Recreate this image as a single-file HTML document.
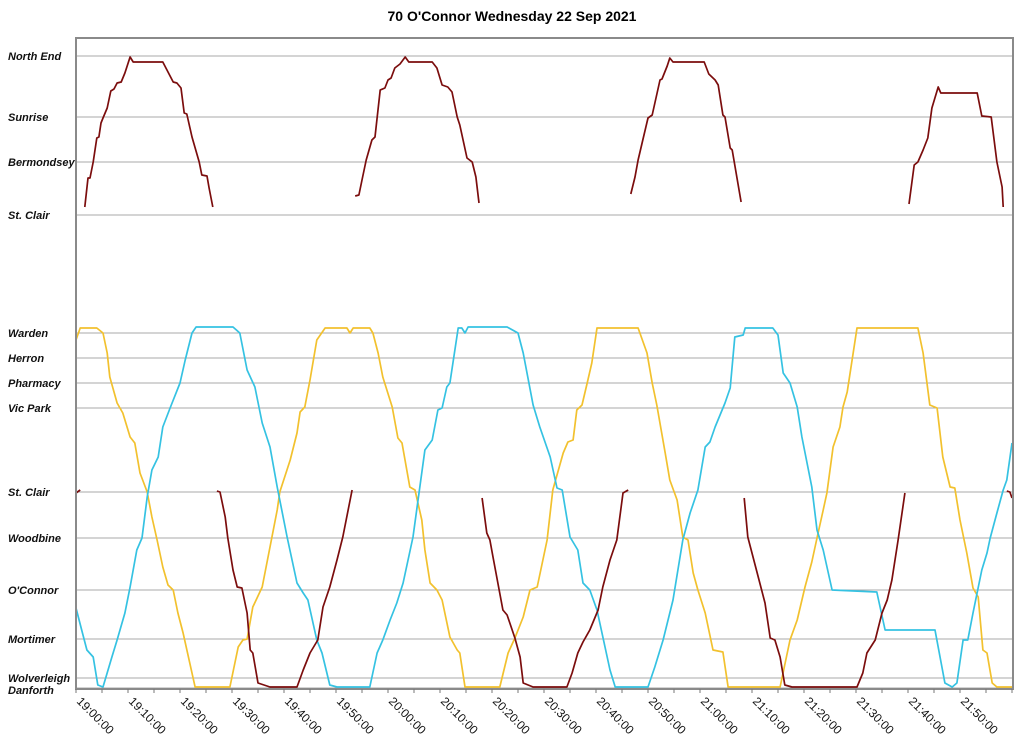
<!DOCTYPE html>
<html><head><meta charset="utf-8"><style>
body{margin:0;background:#fff;width:1024px;height:747px;overflow:hidden;font-family:"Liberation Sans",sans-serif}
</style></head><body>
<svg id="chart" width="1024" height="747" xmlns="http://www.w3.org/2000/svg">
<text x="512" y="21" text-anchor="middle" font-family="Liberation Sans, sans-serif" font-weight="bold" font-size="14">70 O'Connor Wednesday 22 Sep 2021</text>
<g id="grid"></g><g id="series"></g><g id="axes"></g>
</svg>
<script>
const stopNames=["North End","Sunrise","Bermondsey","St. Clair","Warden","Herron","Pharmacy","Vic Park","St. Clair","Woodbine","O'Connor","Mortimer","Wolverleigh","Danforth"];
const stopDist=[632,571,526,473,355,330,305,280,196,150,98,49,10,0];
const tickLabels=["19:00:00","19:10:00","19:20:00","19:30:00","19:40:00","19:50:00","20:00:00","20:10:00","20:20:00","20:30:00","20:40:00","20:50:00","21:00:00","21:10:00","21:20:00","21:30:00","21:40:00","21:50:00"];
// [minutes after 19:00, distance] pairs
const yellowTrip=[0,348,0.8,360,4.0,360,5.2,355,6.0,335,6.5,311,7.9,285,9.0,275,10.4,251,11.3,245,12.3,215,13.7,196,14.6,171,15.6,148,16.7,121,17.7,103,18.7,98,19.6,75,20.6,55,22.9,1,29.6,1,31.2,41,32.1,48,32.9,49,34.0,81,35.8,101,37.3,141,38.7,178,39.2,196,41.2,228,42.5,255,43.1,276,44.0,281,45.0,308,46.3,348,47.9,360,52.1,360,52.7,355,53.3,360,56.5,360,57.1,355,58.1,335,59.0,311,60.8,281,61.9,250,62.7,245,64.2,201,65.2,198,66.5,168,67.1,138,68.1,105,69.4,98,70.4,88,71.9,51,73.3,38,73.8,35,74.8,1,81.5,1,83.1,35,84.4,50,86.0,71,87.3,98,88.7,101,90.6,148,91.7,198,93.7,235,94.6,246,95.6,248,96.3,278,97.3,283,98.3,305,99.2,325,100.2,360,108.1,360,109.8,335,110.8,305,111.7,283,113.3,235,114.2,208,115.6,188,116.7,151,117.7,148,118.7,115,119.6,98,121.0,75,122.5,38,124.4,36,125.4,1,135.4,1,137.3,48,138.7,68,140.2,101,141.5,126,142.5,150,143.7,178,144.4,195,145.6,241,146.9,261,147.5,281,148.3,296,150.2,360,161.9,360,162.9,335,164.2,283,165.6,280,166.7,231,168.1,201,169.0,200,170.0,168,171.3,135,172.5,100,173.5,91,174.4,38,175.2,35,176.2,5,177.1,1,180.0,1];
const cyanTrip=[0,80,1.2,56,2.1,38,3.3,31,4.2,3,5.2,1,6.9,31,7.9,48,9.4,75,10.4,101,11.7,138,12.7,150,13.7,191,14.6,218,15.8,231,16.7,261,18.1,280,20.0,305,21.0,328,22.3,355,23.1,361,30.2,361,31.5,355,32.9,318,34.4,301,35.8,265,37.3,241,38.7,201,40.6,151,42.5,105,43.7,95,44.6,88,46.3,48,47.3,35,48.8,3,50.2,1,56.5,1,57.9,35,59.0,48,60.4,68,61.7,85,62.9,105,64.8,151,65.6,181,67.1,238,68.5,248,69.6,278,70.4,280,71.3,301,71.9,305,73.5,360,74.2,360,74.8,355,75.4,361,82.9,361,85.0,355,86.0,335,87.9,283,89.2,261,91.2,231,92.5,200,93.5,198,95.0,151,96.5,138,97.5,105,98.8,98,100.2,78,102.7,18,103.7,1,110.0,1,111.3,21,112.9,48,114.8,88,116.7,148,118.1,175,119.6,198,121.0,241,121.9,246,122.9,261,124.8,285,125.8,300,126.7,351,128.3,353,128.7,360,134.0,360,135.0,353,136.0,315,137.3,305,138.7,281,139.6,251,141.5,201,142.5,158,143.7,138,145.4,98,154.0,96,155.6,58,165.2,58,167.1,5,168.5,1,169.4,5,170.6,48,171.5,48,172.5,75,174.2,118,175.2,135,175.8,150,177.1,175,178.3,198,179.0,208,180.0,245];
const redA=[0,195,0.8,198];
const redB=[27.1,197,27.7,196,28.7,171,29.2,150,30.2,118,31.0,101,31.9,100,32.9,75,33.5,38,34.0,35,35.0,5,37.3,1,42.5,1,43.7,18,45.0,35,46.5,48,47.5,81,48.8,101,50.2,128,51.3,151,53.1,198];
const redC=[78.1,190,79.0,155,79.6,148,80.2,131,82.1,78,82.9,73,84.4,50,85.4,31,86.0,5,87.9,1,94.4,1,95.4,15,96.5,35,97.5,46,98.8,58,100.4,78,101.3,101,102.7,128,104.0,148,105.2,195,106.2,198];
const redD=[128.5,190,129.2,151,131.0,115,132.5,85,133.5,50,134.4,48,135.4,31,136.3,3,137.7,1,150.2,1,151.3,15,152.1,35,153.7,48,155.0,75,156.0,88,156.9,108,158.1,148,159.4,195];
const redE=[179.0,197,179.6,196,180.0,190];
const redL1=[1.7,481,2.3,510,2.7,510,3.3,526,4.0,550,4.4,551,4.8,565,5.2,570,6.0,580,6.7,597,7.3,599,7.9,605,8.7,606,9.4,615,10.4,631,11.0,626,16.7,626,18.7,606,19.4,605,20.2,600,20.8,575,21.3,574,22.3,551,23.7,526,24.2,513,25.2,512,25.6,500,26.3,481];
const redL2=[53.7,492,54.4,493,55.0,508,55.8,528,56.9,548,57.5,551,58.5,598,59.4,600,60.0,608,60.6,610,61.3,620,62.3,624,63.3,631,64.0,626,68.5,626,69.4,620,70.4,603,71.5,601,72.3,596,73.3,571,73.8,563,75.2,530,76.2,526,76.9,511,77.5,485];
const redL3=[106.7,494,107.5,511,108.1,528,109.0,548,110.0,570,110.8,573,112.3,608,112.7,609,113.7,622,114.2,630,114.8,626,120.8,626,121.7,614,122.9,608,123.5,603,124.4,573,124.8,571,125.8,540,126.2,538,127.9,486];
const redL4=[160.2,484,161.2,523,161.9,526,162.9,538,163.8,550,164.6,580,165.8,601,166.3,595,173.3,595,174.2,572,176.0,571,177.1,526,178.1,501,178.3,481];

const X0=76,X1=1012,Y0=688,Y1=38,TMAX=180,DMAX=650;
function xs(t){return X0+t*(X1-X0)/TMAX;}
function ys(d){return Y0-d*(Y0-Y1)/DMAX;}
const NS="http://www.w3.org/2000/svg";
function mk(tag,attrs,parent){const e=document.createElementNS(NS,tag);for(const k in attrs)e.setAttribute(k,attrs[k]);parent.appendChild(e);return e;}
const grid=document.getElementById('grid'),axes=document.getElementById('axes'),ser=document.getElementById('series');
stopDist.forEach((d,i)=>{
  const y=ys(d);
  const g=mk('line',{x1:X0,x2:X1+1,y1:y,y2:y,stroke:'#a8a8a8','stroke-width':1},grid);
  
  
  let ty=y+4;
  if(stopNames[i]==="Wolverleigh")ty=y+4;
  if(stopNames[i]==="Danforth")ty=y+6;
  const t=mk('text',{x:8,y:ty,'font-size':11,'font-weight':'bold','font-style':'italic','font-family':'Liberation Sans, sans-serif',fill:'#111'},axes);
  t.textContent=stopNames[i];
  
  
});
// frame
const fr=mk('path',{d:`M${X0},${Y0} V${Y1} H${X1+1} V${Y0}`,fill:'none',stroke:'#8a8a8a','stroke-width':2},axes);


const xa=mk('line',{x1:X0-1,x2:X1+2,y1:Y0+1,y2:Y0+1,stroke:'#8a8a8a','stroke-width':2},axes);


for(let m=0;m<=TMAX;m+=5){
  const tk=mk('line',{x1:xs(m),x2:xs(m),y1:Y0+1,y2:Y0+5,stroke:'#777','stroke-width':1},axes);
  
  
}
tickLabels.forEach((lab,i)=>{
  const x=xs(i*10);
  const t=mk('text',{x:x,y:Y0+14,'font-size':12,'font-family':'Liberation Sans, sans-serif',fill:'#111',transform:`rotate(45 ${x} ${Y0+14})`},axes);
  t.textContent=lab;
  
  
});
function line(arr,color,name){
  let d='';
  for(let i=0;i<arr.length;i+=2)d+=(i?'L':'M')+xs(arr[i]).toFixed(1)+','+ys(arr[i+1]).toFixed(1);
  const p=mk('path',{d:d,fill:'none',stroke:color,'stroke-width':1.7,'stroke-linejoin':'round'},ser);
  
  
}
line(yellowTrip,'#f2c12e','series-yellow-bus');
line(cyanTrip,'#35c2e2','series-cyan-bus');
[redA,redB,redC,redD,redE,redL1,redL2,redL3,redL4].forEach((a,i)=>line(a,'#7b0d0d','series-red-bus-trip-'+(i+1)));
</script>
</body></html>
